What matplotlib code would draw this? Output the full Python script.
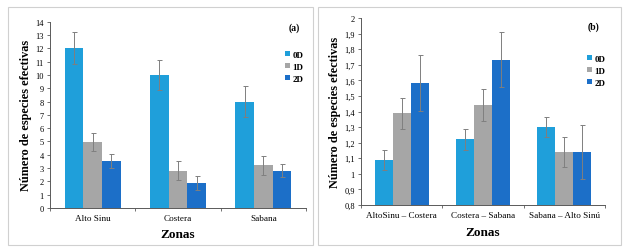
import matplotlib
matplotlib.use("Agg")
import matplotlib.pyplot as plt
from matplotlib.patches import Rectangle
import numpy as np

plt.rcParams['font.family'] = ['Liberation Serif', 'DejaVu Serif']

series = ['0D', '1D', '2D']
colors = ['#1F9FDA', '#A6A6A6', '#1C6FC8']

zonas_a = ['Alto Sinu', 'Costera', 'Sabana']
vals_a = {'0D': [12.0, 10.0, 8.0], '1D': [4.95, 2.8, 3.2], '2D': [3.55, 1.88, 2.8]}
err_a = {'0D': [1.2, 1.15, 1.18], '1D': [0.67, 0.7, 0.7], '2D': [0.52, 0.5, 0.5]}

zonas_b = ['AltoSinu \u2013 Costera', 'Costera \u2013 Sabana', 'Sabana \u2013 Alto Sinú']
vals_b = {'0D': [1.089, 1.221, 1.300], '1D': [1.388, 1.442, 1.138], '2D': [1.583, 1.733, 1.140]}
err_b = {'0D': [0.064, 0.065, 0.063], '1D': [0.101, 0.100, 0.096], '2D': [0.180, 0.177, 0.175]}

W, H = 624, 251
fig = plt.figure(figsize=(W/100, H/100), dpi=100)
fig.patch.set_facecolor('white')

# panel borders
for (x0, x1) in [(8, 313), (318, 621)]:
    fig.add_artist(Rectangle((x0/W, 1-246/H), (x1-x0)/W, (246-8)/H, transform=fig.transFigure,
                             fill=False, edgecolor='#D0D0D0', linewidth=0.8))

def make_panel(rect, cats, vals, errs, ylim, yticks, yfmt, tag, tag_xy, leg_xy):
    l, r, t, b = rect
    ax = fig.add_axes([l/W, 1-b/H, (r-l)/W, (b-t)/H])
    x = np.arange(len(cats))
    bw = 0.22
    for i, s in enumerate(series):
        ax.bar(x + (i-1)*bw, vals[s], bw, color=colors[i], label=s,
               yerr=errs[s], error_kw=dict(ecolor='#7F7F7F', elinewidth=0.7, capsize=1.8, capthick=0.7))
    ax.set_xlim(-0.5, len(cats)-0.5)
    ax.set_ylim(*ylim)
    ax.set_yticks(yticks)
    ax.set_yticklabels([yfmt(v) for v in yticks], fontsize=6)
    ax.set_xticks(x)
    ax.set_xticklabels(cats, fontsize=6.6)
    ax.set_xticks(np.arange(len(cats)+1)-0.5, minor=True)
    ax.tick_params(axis='x', which='major', length=0, pad=4)
    ax.tick_params(axis='x', which='minor', length=2.5, width=0.6, color='#595959')
    ax.tick_params(axis='y', length=2.5, width=0.6, color='#595959', pad=2)
    for sp in ['top', 'right']:
        ax.spines[sp].set_visible(False)
    for sp in ['left', 'bottom']:
        ax.spines[sp].set_color('#595959')
        ax.spines[sp].set_linewidth(0.7)
    ax.set_ylabel('Número de especies efectivas', fontsize=8.8, fontweight='bold', labelpad=2)
    ax.set_xlabel('Zonas', fontsize=9.5, fontweight='bold', labelpad=5)
    fig.text(tag_xy[0]/W, 1-tag_xy[1]/H, tag, fontsize=7, fontweight='bold', ha='center', va='center')
    leg = ax.legend(loc='upper left', bbox_to_anchor=(leg_xy[0]/W, 1-leg_xy[1]/H),
                    bbox_transform=fig.transFigure, frameon=False, fontsize=6.5, handlelength=0.5,
                    handleheight=0.5, handletextpad=0.3, labelspacing=0.45, borderpad=0, borderaxespad=0)
    for t_ in leg.get_texts():
        t_.set_fontweight('bold')
    return ax

make_panel((50, 306, 22.7, 209), zonas_a, vals_a, err_a, (0, 14), list(range(0, 15)),
           lambda v: f'{v:d}', '(a)', (294, 28), (285, 52))

def fmt_b(v):
    s = f'{v:.1f}'.replace('.', ',')
    if s.endswith(',0'):
        s = s[:-2]
    return s

make_panel((361, 605, 19, 206), zonas_b, vals_b, err_b, (0.8, 2.0),
           [round(0.8 + 0.1*i, 1) for i in range(13)], fmt_b, '(b)', (594, 27), (587, 56))

fig.savefig('out.png', dpi=100, facecolor='white')
